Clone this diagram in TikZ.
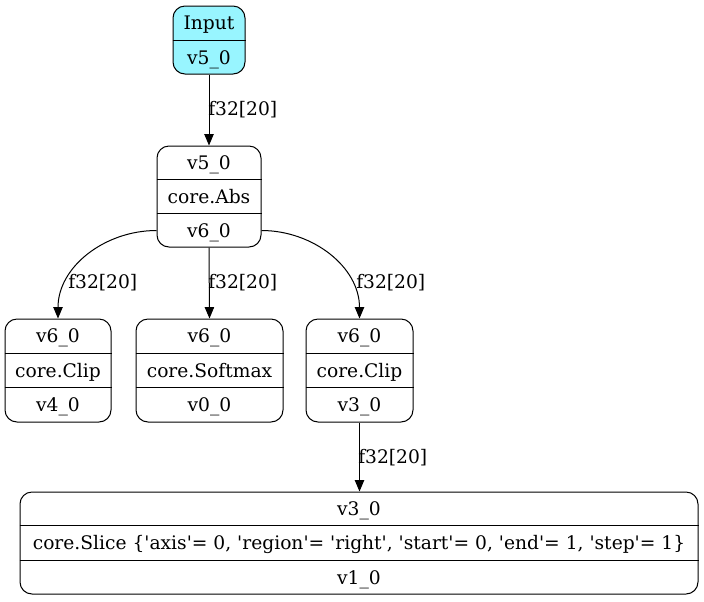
\documentclass[tikz,border=0pt]{standalone}
\usepackage{fontspec}
\setmainfont{DejaVu Serif}[Ligatures=TeXOff]
\usetikzlibrary{arrows.meta,calc,fit}
\definecolor{cadet}{HTML}{98F5FF}
\begin{document}
\begin{tikzpicture}[x=0.75pt,y=-0.75pt,
  rec/.style={draw, rounded corners=9pt, line width=0.75pt, inner sep=0pt},
  txt/.style={font=\fontsize{14}{16}\selectfont, inner sep=0pt, anchor=center, text height=10.2pt, text depth=0pt},
  lbl/.style={font=\fontsize{14}{16}\selectfont, inner sep=0pt, anchor=west, text height=10.2pt, text depth=0pt},
  sep/.style={line width=0.75pt},
  edge/.style={-{Triangle[length=8.5pt,width=7pt]}, line width=0.75pt}]
\useasboundingbox (0,0) rectangle (704,601);

% Input
\node[rec, fill=cadet, fit={(173,6) (245,74)}] (inp) {};
\draw[sep] ($(inp.north west)!0.5!(inp.south west)$) -- ($(inp.north east)!0.5!(inp.south east)$);
\node[txt] (inp-a) at ($(inp.north)!0.25!(inp.south)$) {Input};
\node[txt] (inp-b) at ($(inp.north)!0.75!(inp.south)$) {v5\_0};

% Abs
\node[rec, fit={(157,146) (261,247)}] (abs) {};
\draw[sep] ($(abs.north west)!1/3!(abs.south west)$) -- ($(abs.north east)!1/3!(abs.south east)$);
\draw[sep] ($(abs.north west)!2/3!(abs.south west)$) -- ($(abs.north east)!2/3!(abs.south east)$);
\node[txt] (abs-a) at ($(abs.north)!1/6!(abs.south)$) {v5\_0};
\node[txt] (abs-b) at ($(abs.north)!3/6!(abs.south)$) {core.Abs};
\node[txt] (abs-c) at ($(abs.north)!5/6!(abs.south)$) {v6\_0};
\coordinate (absL) at ($(abs.north west)!5/6!(abs.south west)$);
\coordinate (absR) at ($(abs.north east)!5/6!(abs.south east)$);

% Clip 1
\node[rec, fit={(5,319) (111,422)}] (clipa) {};
\draw[sep] ($(clipa.north west)!1/3!(clipa.south west)$) -- ($(clipa.north east)!1/3!(clipa.south east)$);
\draw[sep] ($(clipa.north west)!2/3!(clipa.south west)$) -- ($(clipa.north east)!2/3!(clipa.south east)$);
\node[txt] (clipa-a) at ($(clipa.north)!1/6!(clipa.south)$) {v6\_0};
\node[txt] (clipa-b) at ($(clipa.north)!3/6!(clipa.south)$) {core.Clip};
\node[txt] (clipa-c) at ($(clipa.north)!5/6!(clipa.south)$) {v4\_0};

% Softmax
\node[rec, fit={(136,319) (283,422)}] (soft) {};
\draw[sep] ($(soft.north west)!1/3!(soft.south west)$) -- ($(soft.north east)!1/3!(soft.south east)$);
\draw[sep] ($(soft.north west)!2/3!(soft.south west)$) -- ($(soft.north east)!2/3!(soft.south east)$);
\node[txt] (soft-a) at ($(soft.north)!1/6!(soft.south)$) {v6\_0};
\node[txt] (soft-b) at ($(soft.north)!3/6!(soft.south)$) {core.Softmax};
\node[txt] (soft-c) at ($(soft.north)!5/6!(soft.south)$) {v0\_0};

% Clip 2
\node[rec, fit={(306,319) (413,422)}] (clipb) {};
\draw[sep] ($(clipb.north west)!1/3!(clipb.south west)$) -- ($(clipb.north east)!1/3!(clipb.south east)$);
\draw[sep] ($(clipb.north west)!2/3!(clipb.south west)$) -- ($(clipb.north east)!2/3!(clipb.south east)$);
\node[txt] (clipb-a) at ($(clipb.north)!1/6!(clipb.south)$) {v6\_0};
\node[txt] (clipb-b) at ($(clipb.north)!3/6!(clipb.south)$) {core.Clip};
\node[txt] (clipb-c) at ($(clipb.north)!5/6!(clipb.south)$) {v3\_0};

% Slice
\node[rec, fit={(20,492) (698,594)}] (slice) {};
\draw[sep] ($(slice.north west)!1/3!(slice.south west)$) -- ($(slice.north east)!1/3!(slice.south east)$);
\draw[sep] ($(slice.north west)!2/3!(slice.south west)$) -- ($(slice.north east)!2/3!(slice.south east)$);
\node[txt] (slice-a) at ($(slice.north)!1/6!(slice.south)$) {v3\_0};
\node[txt] (slice-b) at ($(slice.north)!3/6!(slice.south)$) {core.Slice \{'axis'= 0, 'region'= 'right', 'start'= 0, 'end'= 1, 'step'= 1\}};
\node[txt] (slice-c) at ($(slice.north)!5/6!(slice.south)$) {v1\_0};

% Edges
\draw[edge] (inp.south) -- (abs.north);
\draw[edge] (absL) to[out=180,in=90] (clipa.north);
\draw[edge] (abs.south) -- (soft.north);
\draw[edge] (absR) to[out=0,in=90] (clipb.north);
\draw[edge] (clipb.south) -- (clipb.south |- slice.north);

% Labels
\node[lbl] (l1) at (208,109) {f32[20]};
\node[lbl] (l2) at (68,282) {f32[20]};
\node[lbl] (l3) at (208,282) {f32[20]};
\node[lbl] (l4) at (356,282) {f32[20]};
\node[lbl] (l5) at (358,457) {f32[20]};
\end{tikzpicture}
\end{document}
